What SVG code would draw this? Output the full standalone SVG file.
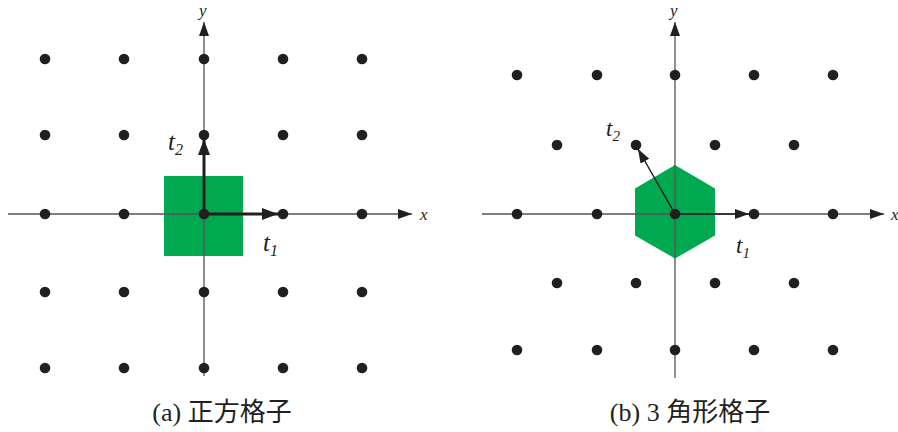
<svg xmlns="http://www.w3.org/2000/svg" width="898" height="432" viewBox="0 0 898 432">
<defs>
<style>
.ax{stroke:#555;stroke-width:1.3;fill:none}
.dot{fill:#231f20}
.it{font-family:"Liberation Serif",serif;font-style:italic;fill:#231f20}
.cap{font-family:"Liberation Serif","Noto Sans CJK JP",serif;font-size:26px;fill:#231f20}
.vec{stroke:#231f20;fill:none}
</style>
<marker id="axh" viewBox="0 0 14 10" refX="14" refY="5" markerWidth="14" markerHeight="10" markerUnits="userSpaceOnUse" orient="auto"><path d="M0,0L14,5L0,10z" fill="#231f20"/></marker>
<marker id="vth" viewBox="0 0 16 12" refX="16" refY="6" markerWidth="16" markerHeight="12" markerUnits="userSpaceOnUse" orient="auto"><path d="M0,0L16,6L0,12z" fill="#231f20"/></marker>
</defs>
<g id="panel-a">
<rect id="cell-a" x="164" y="176" width="79" height="80" fill="#00a94f"/>
<g id="axes-a">
<line class="ax" x1="8" y1="214" x2="412" y2="214" marker-end="url(#axh)"/>
<line class="ax" x1="204" y1="376" x2="204" y2="22" marker-end="url(#axh)"/>
<text class="it" x="420" y="220" font-size="17">x</text>
<text class="it" x="199" y="16" font-size="17">y</text>
</g>
<g id="dots-a">
<circle class="dot" cx="45" cy="59" r="5.3"/><circle class="dot" cx="124" cy="59" r="5.3"/><circle class="dot" cx="204" cy="59" r="5.3"/><circle class="dot" cx="283" cy="59" r="5.3"/><circle class="dot" cx="362" cy="59" r="5.3"/>
<circle class="dot" cx="45" cy="135" r="5.3"/><circle class="dot" cx="124" cy="135" r="5.3"/><circle class="dot" cx="204" cy="135" r="5.3"/><circle class="dot" cx="283" cy="135" r="5.3"/><circle class="dot" cx="362" cy="135" r="5.3"/>
<circle class="dot" cx="45" cy="214" r="5.3"/><circle class="dot" cx="124" cy="214" r="5.3"/><circle class="dot" cx="204" cy="214" r="5.3"/><circle class="dot" cx="283" cy="214" r="5.3"/><circle class="dot" cx="362" cy="214" r="5.3"/>
<circle class="dot" cx="45" cy="292" r="5.3"/><circle class="dot" cx="124" cy="292" r="5.3"/><circle class="dot" cx="204" cy="292" r="5.3"/><circle class="dot" cx="283" cy="292" r="5.3"/><circle class="dot" cx="362" cy="292" r="5.3"/>
<circle class="dot" cx="45" cy="368" r="5.3"/><circle class="dot" cx="124" cy="368" r="5.3"/><circle class="dot" cx="204" cy="368" r="5.3"/><circle class="dot" cx="283" cy="368" r="5.3"/><circle class="dot" cx="362" cy="368" r="5.3"/>
</g>
<g id="vectors-a">
<line class="vec" stroke-width="3" x1="204" y1="214" x2="278" y2="214" marker-end="url(#vth)"/>
<line class="vec" stroke-width="3" x1="204" y1="214" x2="204" y2="139" marker-end="url(#vth)"/>
<text class="it" x="168" y="150" font-size="25">t<tspan font-size="16" dy="5">2</tspan></text>
<text class="it" x="263" y="251" font-size="25">t<tspan font-size="16" dy="5">1</tspan></text>
</g>
<text class="cap" x="222" y="421" text-anchor="middle">(a) 正方格子</text>
</g>
<g id="panel-b">
<polygon id="cell-b" points="675,165 715,188.5 715,235.5 675,258.5 635,235.5 635,188.5" fill="#00a94f"/>
<g id="axes-b">
<line class="ax" x1="482" y1="214" x2="884" y2="214" marker-end="url(#axh)"/>
<line class="ax" x1="675" y1="378" x2="675" y2="22" marker-end="url(#axh)"/>
<text class="it" x="891" y="220" font-size="17">x</text>
<text class="it" x="670" y="16" font-size="17">y</text>
</g>
<g id="dots-b">
<circle class="dot" cx="517" cy="75" r="5.3"/><circle class="dot" cx="597" cy="75" r="5.3"/><circle class="dot" cx="675" cy="75" r="5.3"/><circle class="dot" cx="754" cy="75" r="5.3"/><circle class="dot" cx="833" cy="75" r="5.3"/>
<circle class="dot" cx="557" cy="145" r="5.3"/><circle class="dot" cx="636" cy="145" r="5.3"/><circle class="dot" cx="715" cy="145" r="5.3"/><circle class="dot" cx="794" cy="145" r="5.3"/>
<circle class="dot" cx="517" cy="214" r="5.3"/><circle class="dot" cx="597" cy="214" r="5.3"/><circle class="dot" cx="675" cy="214" r="5.3"/><circle class="dot" cx="754" cy="214" r="5.3"/><circle class="dot" cx="833" cy="214" r="5.3"/>
<circle class="dot" cx="557" cy="283" r="5.3"/><circle class="dot" cx="636" cy="283" r="5.3"/><circle class="dot" cx="715" cy="283" r="5.3"/><circle class="dot" cx="794" cy="283" r="5.3"/>
<circle class="dot" cx="517" cy="350" r="5.3"/><circle class="dot" cx="597" cy="350" r="5.3"/><circle class="dot" cx="675" cy="350" r="5.3"/><circle class="dot" cx="754" cy="350" r="5.3"/><circle class="dot" cx="833" cy="350" r="5.3"/>
</g>
<g id="vectors-b">
<line class="vec" stroke-width="1.5" x1="675" y1="214" x2="749" y2="214" marker-end="url(#axh)"/>
<line class="vec" stroke-width="1.5" x1="675" y1="214" x2="638" y2="149" marker-end="url(#axh)"/>
<text class="it" x="606" y="136" font-size="23">t<tspan font-size="15" dy="5">2</tspan></text>
<text class="it" x="736" y="253" font-size="23">t<tspan font-size="15" dy="5">1</tspan></text>
</g>
<text class="cap" x="690" y="421" text-anchor="middle">(b) 3 角形格子</text>
</g>
</svg>
